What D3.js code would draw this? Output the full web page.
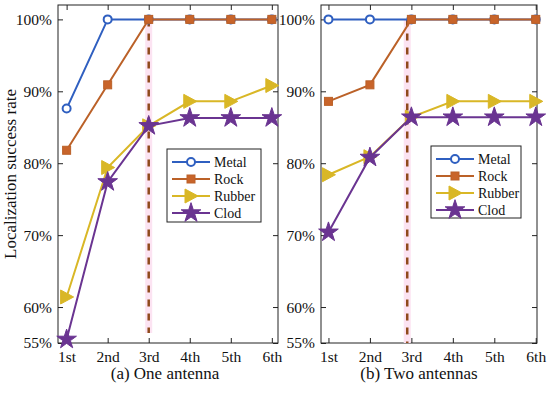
<!DOCTYPE html>
<html>
<head>
<meta charset="utf-8">
<script src="https://cdn.jsdelivr.net/npm/d3@7"></script>
<style>
  body { margin: 0; background: #fff; }
  svg text { font-family: "Liberation Serif", "DejaVu Serif", serif; fill: #111; }
</style>
</head>
<body>
<svg width="550" height="396"></svg>
<script>
// data
const rounds = ["1st", "2nd", "3rd", "4th", "5th", "6th"];
const materials = ["Metal", "Rock", "Rubber", "Clod"];
const yTicks = [55, 60, 70, 80, 90, 100];

const oneMetal  = [87.6, 100, 100, 100, 100, 100];
const oneRock   = [81.8, 90.9, 100, 100, 100, 100];
const oneRubber = [61.4, 79.4, 85.2, 88.6, 88.6, 90.8];
const oneClod   = [55.5, 77.4, 85.2, 86.3, 86.3, 86.3];

const twoMetal  = [100, 100, 100, 100, 100, 100];
const twoRock   = [88.6, 90.9, 100, 100, 100, 100];
const twoRubber = [78.4, 80.9, 86.4, 88.6, 88.6, 88.6];
const twoClod   = [70.4, 80.8, 86.4, 86.4, 86.4, 86.4];

const oneCut = 3, twoCut = 2.9;

const colors = { Metal: "#2f5fc0", Rock: "#bb6128", Rubber: "#d9b726", Clod: "#6a3491" };

let svg = d3.select("svg");

let panels = [
  { x0: 58, x1: 278, dom: [0.79, 6.15], series: [oneMetal, oneRock, oneRubber, oneClod],
    cut: oneCut, cutLow: 56.4, caption: "(a) One antenna", capX: 165, leg: [167, 149, 94, 73] },
  { x0: 321, x1: 537, dom: [0.82, 6.03], series: [twoMetal, twoRock, twoRubber, twoClod],
    cut: twoCut, cutLow: 55, caption: "(b) Two antennas", capX: 419, leg: [431, 146, 90, 72] }
];

let plotTop = 5, plotBottom = 343;
let yScale = d3.scaleLinear().domain([55, 102]).range([plotBottom, plotTop]);

function marker(g, name, x, y) {
  let c = colors[name];
  if (name == "Metal") {
    g.append("circle").attr("cx", x).attr("cy", y).attr("r", 4)
      .attr("fill", "#fff").attr("stroke", c).attr("stroke-width", 2);
  } else if (name == "Rock") {
    g.append("rect").attr("x", x - 4).attr("y", y - 4).attr("width", 8).attr("height", 8)
      .attr("fill", "#c8642a").attr("stroke", c).attr("stroke-width", 1);
  } else if (name == "Rubber") {
    g.append("path").attr("d", `M${x - 6},${y - 7}L${x + 7},${y}L${x - 6},${y + 7}Z`)
      .attr("fill", c).attr("stroke", c).attr("stroke-width", 1);
  } else {
    g.append("path").attr("transform", `translate(${x},${y})`)
      .attr("d", d3.symbol().type(d3.symbolStar).size(120)())
      .attr("fill", c).attr("stroke", c).attr("stroke-width", 1);
  }
}

panels.forEach(p => {
  let xScale = d3.scaleLinear().domain(p.dom).range([p.x0, p.x1]);
  let g = svg.append("g");

  // y axis left + right (ticks inward)
  let yl = g.append("g").attr("transform", `translate(${p.x0},0)`)
    .call(d3.axisLeft(yScale).tickValues(yTicks).tickSize(-5).tickPadding(6).tickFormat(d => d + "%"));
  let yr = g.append("g").attr("transform", `translate(${p.x1},0)`)
    .call(d3.axisRight(yScale).tickValues(yTicks).tickSize(-5).tickFormat(""));
  let xb = g.append("g").attr("transform", `translate(0,${plotBottom})`)
    .call(d3.axisBottom(xScale).tickValues([1, 2, 3, 4, 5, 6]).tickSize(-5).tickPadding(8)
      .tickFormat((d, i) => rounds[i]));
  let xt = g.append("g").attr("transform", `translate(0,${plotTop})`)
    .call(d3.axisTop(xScale).tickValues([1, 2, 3, 4, 5, 6]).tickSize(-5).tickFormat(""));
  [yl, yr, xb, xt].forEach(a => {
    a.select(".domain").remove();
    a.selectAll("line").attr("stroke", "#222");
    a.selectAll("text").attr("font-size", 15.5);
  });
  g.append("rect").attr("x", p.x0).attr("y", plotTop).attr("width", p.x1 - p.x0).attr("height", plotBottom - plotTop)
    .attr("fill", "none").attr("stroke", "#222").attr("stroke-width", 1);

  // dashed cut line with pink halo
  let cx = xScale(p.cut);
  g.append("line").attr("x1", cx).attr("x2", cx).attr("y1", yScale(100)).attr("y2", yScale(p.cutLow))
    .attr("stroke", "#fce3f2").attr("stroke-width", 7);
  g.append("line").attr("x1", cx).attr("x2", cx).attr("y1", yScale(100)).attr("y2", yScale(p.cutLow))
    .attr("stroke", "#8f4a1c").attr("stroke-width", 2.5).attr("stroke-dasharray", "7,7");

  let line = d3.line().x((d, i) => xScale(i + 1)).y(d => yScale(d));
  p.series.forEach((s, k) => {
    let name = materials[k];
    g.append("path").datum(s).attr("d", line).attr("fill", "none")
      .attr("stroke", colors[name]).attr("stroke-width", 2);
    s.forEach((v, i) => marker(g, name, xScale(i + 1), yScale(v)));
  });

  // legend
  let [lx, ly, lw, lh] = p.leg;
  let lg = svg.append("g");
  lg.append("rect").attr("x", lx).attr("y", ly).attr("width", lw).attr("height", lh)
    .attr("fill", "#fff").attr("stroke", "#222").attr("stroke-width", 1);
  materials.forEach((name, k) => {
    let yy = ly + 13 + k * 17;
    lg.append("line").attr("x1", lx + 5).attr("x2", lx + 43).attr("y1", yy).attr("y2", yy)
      .attr("stroke", colors[name]).attr("stroke-width", 2);
    marker(lg, name, lx + 24, yy);
    lg.append("text").attr("x", lx + 47).attr("y", yy).attr("dy", "0.35em")
      .attr("font-size", 14).text(name);
  });

  svg.append("text").attr("x", p.capX).attr("y", 378.5).attr("text-anchor", "middle")
    .attr("font-size", 17).text(p.caption);
});

svg.append("text").attr("transform", "translate(16,174) rotate(-90)")
  .attr("text-anchor", "middle").attr("font-size", 17)
  .text("Localization success rate");
</script>
</body>
</html>
